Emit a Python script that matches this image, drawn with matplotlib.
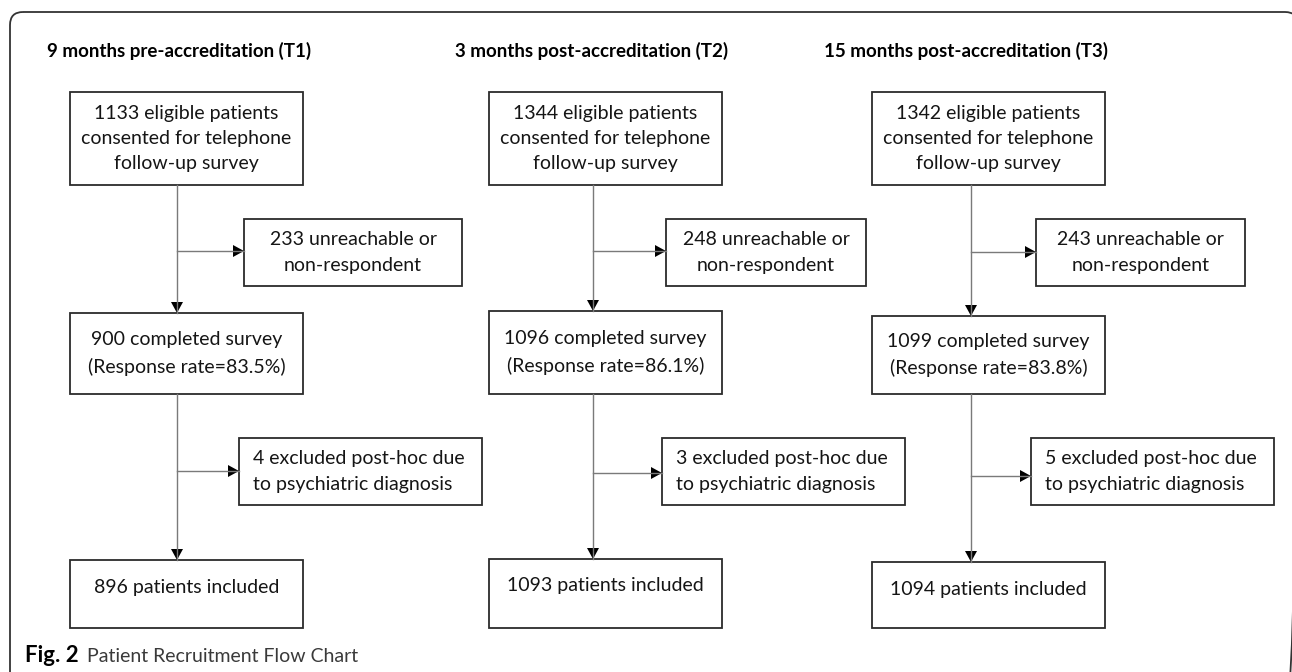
import matplotlib.pyplot as plt
from matplotlib.patches import Rectangle, FancyBboxPatch, Polygon

# 三个时间点的标题与人数
periods = ["9 months pre-accreditation (T1)",
           "3 months post-accreditation (T2)",
           "15 months post-accreditation (T3)"]
eligible = [1133, 1344, 1342]
unreachable = [233, 248, 243]
completed = [900, 1096, 1099]
response_rate = ["83.5", "86.1", "83.8"]
excluded = [4, 3, 5]
included = [896, 1093, 1094]
caption_bold = "Fig. 2"
caption_text = "Patient Recruitment Flow Chart"

# 版面（像素坐标，y 向下）
title_x = [47, 455, 824]
main_left = [70, 489, 872]
main_w = 233
stem_x = [177, 593, 971]
a_rows = (92, 185)
c_top = [313, 311, 316]
c_bot = 394
e_top = [560, 559, 562]
e_bot = 628
side1_left = [244, 666, 1036]
side1_right = [462, 866, 1245]
side1_rows = (219, 286)
side1_y = [251, 251, 252]
side2_left = [239, 662, 1031]
side2_right = [482, 905, 1274]
side2_rows = (438, 505)
side2_y = [471, 473, 476]

W, H = 1292, 672
FONT = ["Lato", "DejaVu Sans"]
BOX_FS = 14
EDGE = "#2b2b2b"
LINE = "#7a7a7a"
TXT = "#151515"

fig = plt.figure(figsize=(W / 100, H / 100), dpi=100)
ax = fig.add_axes([0, 0, 1, 1])
ax.set_xlim(0, W)
ax.set_ylim(H, 0)
ax.axis("off")

# 外框（上方圆角，右侧与底部伸出画面）
frame = FancyBboxPatch((10, 12), 1288, 700, boxstyle="round,pad=0,rounding_size=13",
                       fill=False, edgecolor="#333333", linewidth=1.3)
ax.add_patch(frame)


def box(x0, x1, y0, y1):
    ax.add_patch(Rectangle((x0, y0), x1 - x0, y1 - y0, fill=False,
                           edgecolor=EDGE, linewidth=1.3))


def head(x, y, direction):
    s = 6
    if direction == "down":
        pts = [(x - s, y - 11), (x + s, y - 11), (x, y)]
    else:
        pts = [(x - 11, y - s), (x - 11, y + s), (x, y)]
    ax.add_patch(Polygon(pts, closed=True, color="black", linewidth=0))


for i in range(3):
    x0 = main_left[i]
    x1 = x0 + main_w
    cx = (x0 + x1) / 2
    sx = stem_x[i]

    ax.text(title_x[i], 51, periods[i], fontsize=13.5, fontweight="bold",
            family=FONT, ha="left", va="center", color="black")

    # 主流程框
    box(x0, x1, *a_rows)
    ax.text(cx, sum(a_rows) / 2,
            f"{eligible[i]} eligible patients\nconsented for telephone\nfollow-up survey",
            fontsize=BOX_FS, family=FONT, ha="center", va="center",
            linespacing=1.6, color=TXT)
    box(x0, x1, c_top[i], c_bot)
    ax.text(cx, (c_top[i] + c_bot) / 2,
            f"{completed[i]} completed survey\n(Response rate={response_rate[i]}%)",
            fontsize=BOX_FS, family=FONT, ha="center", va="center",
            linespacing=1.6, color=TXT)
    box(x0, x1, e_top[i], e_bot)
    ax.text(cx, e_top[i] + 27, f"{included[i]} patients included",
            fontsize=BOX_FS, family=FONT, ha="center", va="center", color=TXT)

    # 旁支框
    box(side1_left[i], side1_right[i], *side1_rows)
    ax.text((side1_left[i] + side1_right[i]) / 2, sum(side1_rows) / 2,
            f"{unreachable[i]} unreachable or\nnon-respondent",
            fontsize=BOX_FS, family=FONT, ha="center", va="center",
            linespacing=1.6, color=TXT)
    box(side2_left[i], side2_right[i], *side2_rows)
    ax.text(side2_left[i] + 14, sum(side2_rows) / 2,
            f"{excluded[i]} excluded post-hoc due\nto psychiatric diagnosis",
            fontsize=BOX_FS, family=FONT, ha="left", va="center",
            linespacing=1.6, color=TXT)

    # 连接线与箭头
    ax.plot([sx, sx], [a_rows[1], c_top[i]], color=LINE, lw=1.0)
    head(sx, c_top[i], "down")
    ax.plot([sx, side1_left[i]], [side1_y[i]] * 2, color=LINE, lw=1.0)
    head(side1_left[i], side1_y[i], "right")
    ax.plot([sx, sx], [c_bot, e_top[i]], color=LINE, lw=1.0)
    head(sx, e_top[i], "down")
    ax.plot([sx, side2_left[i]], [side2_y[i]] * 2, color=LINE, lw=1.0)
    head(side2_left[i], side2_y[i], "right")

# 图注
t = ax.text(25, 656, caption_bold, fontsize=16, fontweight="bold",
            family=FONT, ha="left", va="center", color="black")
fig.canvas.draw()
bb = t.get_window_extent()
x_after = ax.transData.inverted().transform((bb.x1, bb.y0))[0]
ax.text(x_after + 8, 656, caption_text, fontsize=14,
        family=FONT, ha="left", va="center", color="#3a3a3a")

fig.savefig("out.png", dpi=100)
